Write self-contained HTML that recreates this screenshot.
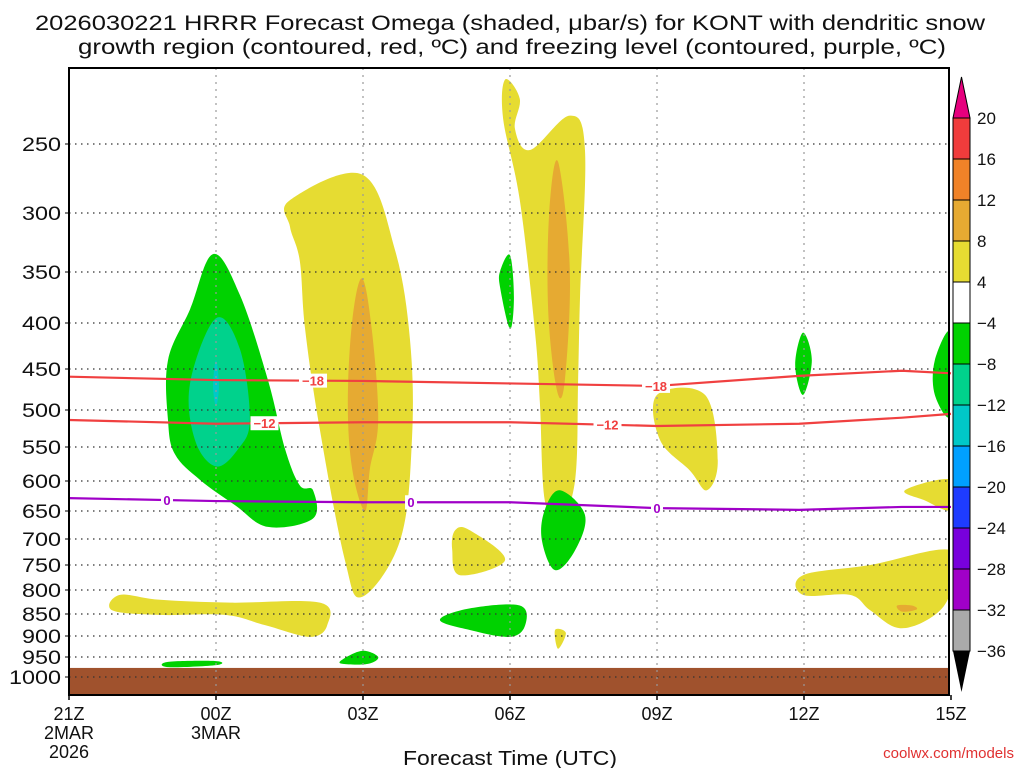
<!DOCTYPE html>
<html><head><meta charset="utf-8"><style>
body{margin:0;background:#fff;width:1024px;height:768px;overflow:hidden}
svg text{font-family:"Liberation Sans","DejaVu Sans",sans-serif}
</style></head><body>
<svg id="c" width="1024" height="768">
<text x="35" y="30" font-size="21" textLength="950" lengthAdjust="spacingAndGlyphs" fill="#111">2026030221 HRRR Forecast Omega (shaded, μbar/s) for KONT with dendritic snow</text>
<text x="78" y="54" font-size="21" textLength="868" lengthAdjust="spacingAndGlyphs" fill="#111">growth region (contoured, red, ºC) and freezing level (contoured, purple, ºC)</text>
<g id="fills"></g><g id="grid"></g><g id="lines"></g><g id="axes"></g><g id="cbar"></g>
<text x="403" y="765" font-size="20" textLength="214" lengthAdjust="spacingAndGlyphs" fill="#111">Forecast Time (UTC)</text>
<text x="1014" y="758" font-size="15" text-anchor="end" fill="#e03030">coolwx.com/models</text>
</svg>
<script>
const xTickHours=[0,3,6,9,12,15,18];
const xTickLabels=[["21Z","2MAR","2026"],["00Z","3MAR"],["03Z"],["06Z"],["09Z"],["12Z"],["15Z"]];
const pTicks=[250,300,350,400,450,500,550,600,650,700,750,800,850,900,950,1000];
const cbLevels=[20,16,12,8,4,-4,-8,-12,-16,-20,-24,-28,-32,-36];
const cbColors=["#f03c3c","#f08228","#e6aa32","#e6dc32","#ffffff","#00d200","#00d28c","#00c8c8","#00a0ff","#1e3cff","#7800dc","#a000c8","#aaaaaa"];
const GREEN="#00d200",TEAL="#00d28c",YEL="#e6dc32",ORG="#e6aa32";
const shapes=[
 {c:GREEN,n:"omega-green-00z",d:[[2.94,334],[3.49,372],[4.06,463],[4.41,553],[4.71,607],[4.98,615],[4.98,663],[4.06,678],[3.39,640],[2.67,598],[2.16,560],[2.02,513],[2.02,440],[2.47,386]]},
 {c:TEAL,n:"omega-teal-00z",d:[[3.0,395],[3.49,428],[3.69,513],[3.45,553],[3.0,578],[2.57,540],[2.47,467]]},
 {c:"#00c8c8",n:"omega-cyan-00z",d:[[3.0,440],[3.06,470],[3.0,495],[2.94,470]]},
 {c:YEL,n:"omega-yellow-03z",d:[[4.51,290],[5.98,271],[6.65,330],[6.96,418],[7.0,538],[6.76,702],[5.98,814],[5.63,740],[5.12,526],[4.82,407],[4.71,340],[4.51,311]]},
 {c:ORG,n:"omega-orange-03z",d:[[5.98,356],[6.18,407],[6.31,513],[6.14,582],[6.04,650],[5.78,582],[5.69,491],[5.78,398]]},
 {c:YEL,n:"omega-yellow-06z",d:[[8.9,211],[9.2,222],[9.1,240],[9.41,254],[10.22,232],[10.53,254],[10.43,372],[10.39,463],[10.33,598],[10.02,667],[9.71,632],[9.61,491],[9.51,409],[9.2,290],[8.86,234]]},
 {c:ORG,n:"omega-orange-07z",d:[[9.98,262],[10.22,347],[10.12,463],[9.96,476],[9.78,388],[9.8,300]]},
 {c:GREEN,n:"omega-green-06z-upper",d:[[9.0,335],[9.08,374],[9.0,406],[8.8,365],[8.8,349]]},
 {c:GREEN,n:"omega-green-07z",d:[[10.02,615],[10.53,657],[10.33,721],[9.92,760],[9.65,702],[9.71,648]]},
 {c:YEL,n:"omega-yellow-09z",d:[[12.0,481],[12.98,481],[13.24,569],[13.02,615],[12.67,584],[12.06,540]]},
 {c:GREEN,n:"omega-green-12z",d:[[14.98,410],[15.16,440],[14.98,481],[14.82,445]]},
 {c:GREEN,n:"omega-green-15z",d:[[18,410],[18,506],[17.67,481],[17.67,440]]},
 {c:YEL,n:"omega-yellow-15z-mid",d:[[17.06,615],[18,598],[18,648],[17.47,632]]},
 {c:YEL,n:"omega-yellow-13z-low",d:[[14.98,770],[16.35,750],[18,721],[18,800],[17.67,852],[16.96,882],[16.35,842],[15.94,810],[14.98,810]]},
 {c:ORG,n:"omega-orange-14z",d:[[16.9,832],[17.2,832],[17.3,840],[17.0,845]]},
 {c:YEL,n:"omega-yellow-05z",d:[[7.88,684],[8.18,684],[8.9,740],[7.98,770],[7.82,720]]},
 {c:GREEN,n:"omega-green-05z-low",d:[[7.57,863],[8.18,838],[9.2,832],[9.31,875],[9.0,902],[8.18,886]]},
 {c:YEL,n:"omega-yellow-07z-low",d:[[9.92,886],[10.14,893],[9.98,930]]},
 {c:YEL,n:"omega-yellow-22z-low",d:[[1.04,810],[1.86,820],[3.29,826],[5.12,826],[5.27,875],[4.92,902],[4.0,875],[3.18,852],[1.86,852],[0.88,842]]},
 {c:GREEN,n:"omega-green-23z-sfc",d:[[2.02,962],[3.0,960],[3.0,970],[2.02,975]]},
 {c:GREEN,n:"omega-green-03z-sfc",d:[[5.57,957],[5.98,935],[6.31,950],[6.1,967],[5.59,967]]}
];
const contourHours=[0,3,6,9,12,14.9,17,18];
const tMinus18=[459,463,464,467,470,458,452,455];
const tMinus12=[513,518,516,516,521,518,510,505];
const tZero=[628,633,635,635,645,648,643,643];
const groundP=977;

const X0=69,XW=49;
const tickY=[144,213,272,323,369,410,447,481,511,539,565,590,614,636,657,677];
function xs(h){return X0+h*XW;}
function ys(p){
 if(p<=pTicks[0]) return tickY[0]-380*Math.log(pTicks[0]/p);
 for(let i=0;i<pTicks.length-1;i++){if(p<=pTicks[i+1]){const f=Math.log(p/pTicks[i])/Math.log(pTicks[i+1]/pTicks[i]);return tickY[i]+f*(tickY[i+1]-tickY[i]);}}
 return tickY[15]+390*Math.log(p/1000);
}
const NS="http://www.w3.org/2000/svg";
function mk(t,a,parent){const e=document.createElementNS(NS,t);for(const k in a)e.setAttribute(k,a[k]);document.getElementById(parent).appendChild(e);return e;}
function smoothClosed(pts){
 const n=pts.length,t=0.35;let d="M"+pts[0][0]+","+pts[0][1];
 for(let i=0;i<n;i++){const p0=pts[(i-1+n)%n],p1=pts[i],p2=pts[(i+1)%n],p3=pts[(i+2)%n];
  const c1=[p1[0]+(p2[0]-p0[0])*t/2,p1[1]+(p2[1]-p0[1])*t/2],c2=[p2[0]-(p3[0]-p1[0])*t/2,p2[1]-(p3[1]-p1[1])*t/2];
  d+=` C${c1[0]},${c1[1]} ${c2[0]},${c2[1]} ${p2[0]},${p2[1]}`;}
 return d+"Z";
}
const L=69,R=949,T=68,B=695;
const defs=document.createElementNS(NS,"defs");defs.innerHTML='<clipPath id="pc"><rect x="'+L+'" y="'+T+'" width="'+(R-L)+'" height="'+(B-T)+'"/></clipPath>';
document.getElementById("c").appendChild(defs);
document.getElementById("fills").setAttribute("clip-path","url(#pc)");
shapes.forEach(s=>{
 const e=mk("path",{d:smoothClosed(s.d.map(q=>[xs(q[0]),ys(q[1])])),fill:s.c},"fills");
 
 
});
let g=mk("rect",{x:L,y:ys(groundP),width:R-L,height:B-ys(groundP),fill:"#a0522d"},"fills");


pTicks.forEach(p=>{
 const e=mk("line",{x1:L,x2:R,y1:ys(p),y2:ys(p),stroke:"#333","stroke-width":1.2,"stroke-dasharray":"1.5 4.5"},"grid");
 
 
 const w=String(p).length*13;
 const t=mk("text",{x:61-w,y:ys(p)+7,"font-size":19,textLength:w,lengthAdjust:"spacingAndGlyphs",fill:"#111"},"axes");t.textContent=p;
 
 
 mk("line",{x1:L-4,x2:L,y1:ys(p),y2:ys(p),stroke:"#000"},"axes");
});
xTickHours.forEach((h,i)=>{
 if(i>0&&i<6){const e=mk("line",{x1:xs(h),x2:xs(h),y1:T,y2:B,stroke:"#999","stroke-width":1.2,"stroke-dasharray":"2 5"},"grid");
 
 }
 xTickLabels[i].forEach((s,j)=>{const t=mk("text",{x:xs(h),y:720+j*19,"font-size":18,"text-anchor":"middle",fill:"#111"},"axes");t.textContent=s;
 
 });
 mk("line",{x1:xs(h),x2:xs(h),y1:B,y2:B+5,stroke:"#000","stroke-width":1.5},"axes");
});
function cline(vals,col,name,lbl,lblHours){
 const e=mk("polyline",{points:contourHours.map((h,i)=>xs(h)+","+ys(vals[i])).join(" "),fill:"none",stroke:col,"stroke-width":2.2},"lines");
 
 
 lblHours.forEach(h=>{
  let k=0;while(k<contourHours.length-2&&contourHours[k+1]<h)k++;
  const f=(h-contourHours[k])/(contourHours[k+1]-contourHours[k]);
  const p=vals[k]+f*(vals[k+1]-vals[k]);
  const w=lbl.length*8+4;
  mk("rect",{x:xs(h)-w/2,y:ys(p)-7,width:w,height:14,fill:"#fff"},"lines");
  const t=mk("text",{x:xs(h),y:ys(p)+5,"font-size":13,"font-weight":"bold","text-anchor":"middle",fill:col},"lines");t.textContent=lbl;
  
  
 });
}
cline(tMinus18,"#f04040","contour-minus-18c","−18",[4.98,11.98]);
cline(tMinus12,"#f04040","contour-minus-12c","−12",[3.99,10.99]);
cline(tZero,"#a000c8","freezing-level-0c","0",[2.0,6.98,12.0]);
let fr=mk("rect",{x:L,y:T,width:R-L,height:B-T,fill:"none",stroke:"#000","stroke-width":2},"axes");


const CX=953,CW=17,CB0=118,CH=41;
cbColors.forEach((c,i)=>{const e=mk("rect",{x:CX,y:CB0+i*CH,width:CW,height:CH,fill:c,stroke:"#000","stroke-width":1},"cbar");
 
 });
let tri=mk("polygon",{points:`${CX},${CB0} ${CX+CW},${CB0} ${CX+CW/2},${CB0-41}`,fill:"#e6007e",stroke:"#000"},"cbar");


const cbBot=CB0+cbColors.length*CH;
tri=mk("polygon",{points:`${CX},${cbBot} ${CX+CW},${cbBot} ${CX+CW/2},${cbBot+41}`,fill:"#000"},"cbar");


cbLevels.forEach((v,i)=>{const t=mk("text",{x:977,y:CB0+i*CH+6,"font-size":17,fill:"#111"},"cbar");t.textContent=v<0?"−"+(-v):v;
 
 });
</script>
</body></html>
